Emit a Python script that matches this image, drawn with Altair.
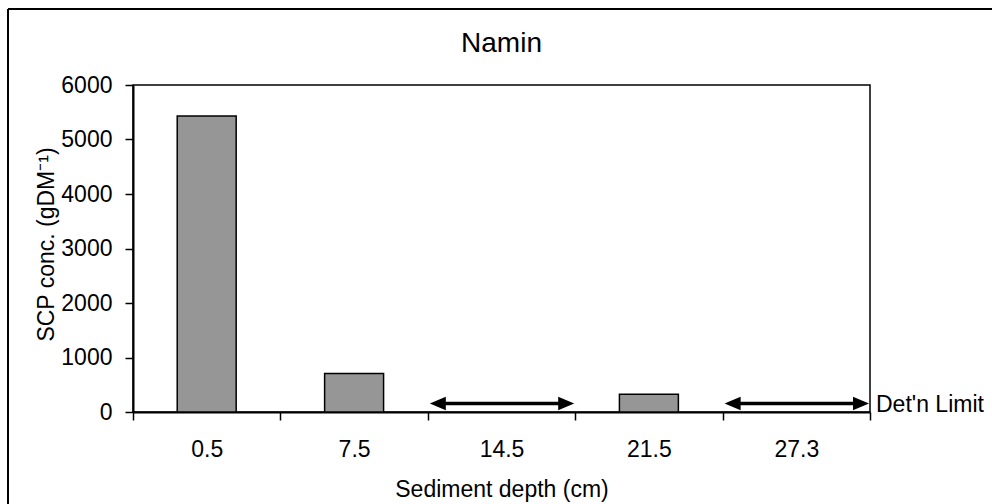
import altair as alt
import pandas as pd

# Sediment core: SCP concentration by depth
depths = ["0.5", "7.5", "14.5", "21.5", "27.3"]
scp_conc = [5430, 705, None, 325, None]
below_limit = ["14.5", "27.3"]   # samples below detection limit
det_limit = 155
limit_label = "Det'n Limit"
y_ticks = [0, 1000, 2000, 3000, 4000, 5000, 6000]

FONT = "Liberation Sans"
W, H = 737, 327

bars_df = pd.DataFrame({"depth": depths, "scp": scp_conc}).dropna()
nd_df = pd.DataFrame({"depth": below_limit, "limit": [det_limit] * len(below_limit)})
label_df = pd.DataFrame({"depth": [depths[-1]], "limit": [det_limit], "text": [limit_label]})
frame_df = pd.DataFrame({"k": [0]})

x_title = "Sediment depth (cm)"
y_title = "SCP conc. (gDM⁻¹)"
x_scale = alt.Scale(domain=depths, paddingInner=0, paddingOuter=0)
y_scale = alt.Scale(domain=[0, 6000])

bars = alt.Chart(bars_df).mark_bar(
    width=alt.RelativeBandSize(0.4), color="#969696", stroke="black", strokeWidth=1.5
).encode(
    x=alt.X("depth:N", sort=depths, scale=x_scale, title=x_title),
    y=alt.Y("scp:Q", scale=y_scale, title=y_title,
            axis=alt.Axis(values=y_ticks, format="d")),
)

shaft = alt.Chart(nd_df).mark_rule(
    color="black", strokeWidth=3.5, xOffset=8, x2Offset=-6
).encode(
    x=alt.X("depth:N", sort=depths, scale=x_scale, title=x_title, bandPosition=0),
    x2=alt.X2("depth", bandPosition=1),
    y=alt.Y("limit:Q", scale=y_scale, title=y_title),
)

left_head = alt.Chart(nd_df).mark_point(
    shape="M-1,0L1,-0.85L1,0.85Z", size=256, filled=True, color="black",
    opacity=1, strokeWidth=0, xOffset=10
).encode(
    x=alt.X("depth:N", sort=depths, scale=x_scale, title=x_title, bandPosition=0),
    y=alt.Y("limit:Q", scale=y_scale, title=y_title),
)

right_head = alt.Chart(nd_df).mark_point(
    shape="M1,0L-1,-0.85L-1,0.85Z", size=256, filled=True, color="black",
    opacity=1, strokeWidth=0, xOffset=-9
).encode(
    x=alt.X("depth:N", sort=depths, scale=x_scale, title=x_title, bandPosition=1),
    y=alt.Y("limit:Q", scale=y_scale, title=y_title),
)

limit_text = alt.Chart(label_df).mark_text(
    align="left", baseline="middle", dx=6, dy=1, font=FONT, fontSize=23, color="black"
).encode(
    x=alt.X("depth:N", sort=depths, scale=x_scale, title=x_title, bandPosition=1),
    y=alt.Y("limit:Q", scale=y_scale, title=y_title),
    text="text:N",
)

# outer chart frame (left and top edges)
frame_left = alt.Chart(frame_df).mark_rule(color="black", strokeWidth=2).encode(
    x=alt.value(-125), y=alt.value(-76), y2=alt.value(H + 120)
)
frame_top = alt.Chart(frame_df).mark_rule(color="black", strokeWidth=2).encode(
    y=alt.value(-76), x=alt.value(-125), x2=alt.value(W + 140)
)

chart = alt.layer(
    bars, shaft, left_head, right_head, limit_text, frame_left, frame_top
).properties(
    width=W,
    height=H,
    title=alt.TitleParams(
        "Namin", font=FONT, fontSize=28, fontWeight="normal", color="black",
        anchor="middle", frame="group", baseline="alphabetic", offset=0, dy=72,
    ),
    autosize=alt.AutoSizeParams(type="none"),
    padding={"left": 133, "top": 85, "right": 122, "bottom": 92},
).configure_view(
    stroke="black", strokeWidth=1.5
).configure_axis(
    labelFont=FONT, titleFont=FONT, labelFontSize=23, titleFontSize=23,
    labelColor="black", titleColor="black", titleFontWeight="normal",
    domainColor="black", tickColor="black", grid=False, tickSize=8,
).configure_axisX(
    tickBand="extent", labelAngle=0, labelBaseline="alphabetic", labelPadding=36.5,
    domainWidth=2, tickWidth=1.5, titleBaseline="alphabetic", titleY=84.5,
).configure_axisY(
    labelPadding=13, domainWidth=2, tickWidth=1.5,
    titleAngle=-90, titleBaseline="alphabetic", titleX=-80, titleY=159,
    titleAlign="center",
)

chart.save("out.html", embed_options={"renderer": "svg", "actions": False})
